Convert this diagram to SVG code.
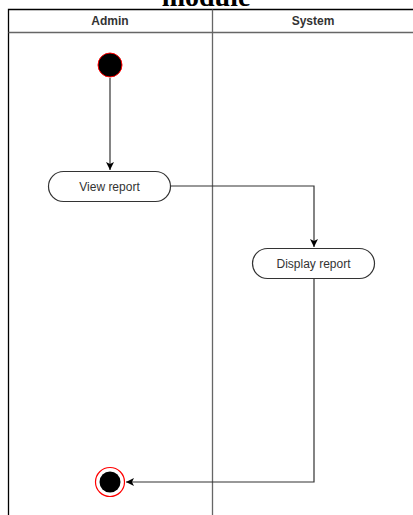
<svg xmlns="http://www.w3.org/2000/svg" width="413" height="515" viewBox="0 0 413 515">
<style>
.lane{fill:none;stroke:#000;stroke-width:1.3}
.sep{stroke:#666;stroke-width:1.3;fill:none}
.hdr{font-family:"Liberation Sans",Arial,sans-serif;font-size:12px;font-weight:bold;fill:#333;text-anchor:middle}
.act{fill:#fff;stroke:#333;stroke-width:1.2}
.lbl{font-family:"Liberation Sans",Arial,sans-serif;font-size:12px;fill:#333;text-anchor:middle}
.edge{fill:none;stroke:#333;stroke-width:1.2}
</style>
<defs>
<marker id="arr" markerWidth="10" markerHeight="10" refX="8" refY="4" orient="auto" markerUnits="userSpaceOnUse">
<path d="M0,0 L8,4 L0,8 L2,4 Z" fill="#000"/>
</marker>
</defs>
<text x="206" y="6" font-family="'Liberation Serif','Times New Roman',serif" font-size="28" font-weight="bold" text-anchor="middle">module</text>
<g id="pool">
<path class="lane" d="M413,9.5 H8.5 V515"/>
<line class="sep" x1="8.5" y1="32.5" x2="413" y2="32.5"/>
<line class="sep" x1="212.5" y1="9.5" x2="212.5" y2="515"/>
<text class="hdr" x="110" y="25">Admin</text>
<text class="hdr" x="313" y="25">System</text>
</g>
<g id="edges">
<path class="edge" d="M110,78 V170" marker-end="url(#arr)"/>
<path class="edge" d="M170,186 H314 V247" marker-end="url(#arr)"/>
<path class="edge" d="M314,278 V482 H126" marker-end="url(#arr)"/>
</g>
<g id="start">
<circle cx="110" cy="65" r="12" fill="#000" stroke="#f00" stroke-width="1"/>
</g>
<g id="view-report">
<rect class="act" x="48.5" y="171.5" width="122" height="30" rx="15"/>
<text class="lbl" x="109.5" y="190.5">View report</text>
</g>
<g id="display-report">
<rect class="act" x="252.5" y="248.5" width="122" height="30" rx="15"/>
<text class="lbl" x="313.5" y="267.5">Display report</text>
</g>
<g id="end">
<circle cx="110" cy="482" r="14.5" fill="#fff" stroke="#f00" stroke-width="1.2"/>
<circle cx="110" cy="482" r="10.5" fill="#000"/>
</g>
</svg>
